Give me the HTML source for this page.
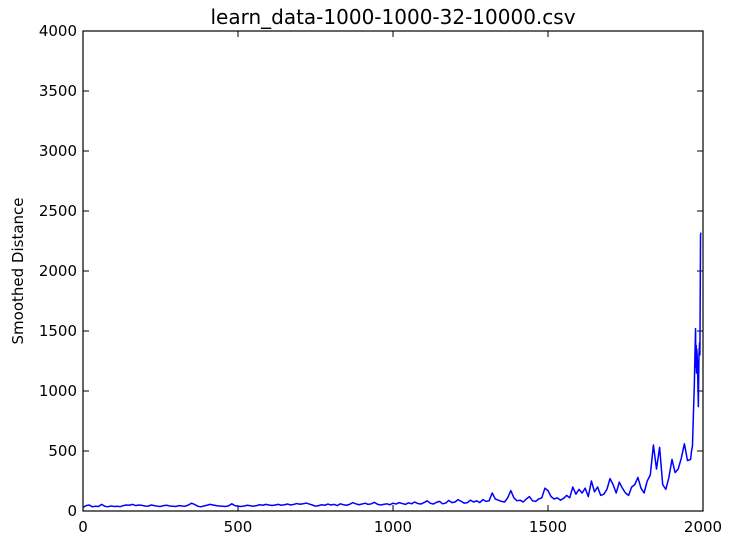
<!DOCTYPE html>
<html><head><meta charset="utf-8"><style>
body{margin:0;background:#fff;}
svg text{font-family:"DejaVu Sans","Liberation Sans",sans-serif;}
</style></head><body>
<svg id="chart" width="734" height="545">
<rect x="0" y="0" width="734" height="545" fill="#fff"/>
<text x="393" y="24" font-size="20" text-anchor="middle">learn_data-1000-1000-32-10000.csv</text>
<text transform="translate(23,271) rotate(-90)" font-size="15" text-anchor="middle">Smoothed Distance</text>
<g id="ticks"></g>
<polyline id="series" fill="none" stroke="#0000ff" stroke-width="1.5" stroke-linejoin="round"/>
<rect x="83" y="31" width="620" height="480" fill="none" stroke="#000" stroke-width="1.2"/>
</svg>
<script>
const xTicks=[0,500,1000,1500,2000];
const yTicks=[0,500,1000,1500,2000,2500,3000,3500,4000];
const stepSize=10;
const distance=[
30,45,50,35,40,38,55,40,35,42,
38,40,36,45,50,48,55,45,50,47,
42,40,50,45,40,38,45,48,42,40,
38,45,42,40,50,65,55,40,35,42,
48,55,50,45,42,40,38,44,60,45,
40,38,42,48,44,40,45,52,48,55,
50,46,50,55,48,52,58,50,55,62,
56,60,66,58,50,40,45,52,48,58,
50,55,45,60,52,48,55,70,60,52,
58,65,55,60,72,56,50,55,60,52,
65,58,70,62,55,68,60,75,62,58,
70,85,65,58,72,80,60,66,88,70,
75,95,80,65,70,90,75,85,70,95,
80,85,150,100,90,80,75,110,170,110,
85,90,75,100,120,85,80,100,110,190,
170,120,100,110,90,105,130,110,200,140,
180,150,190,120,250,160,200,130,140,180,
270,220,150,240,190,150,130,200,220,280,
190,150,250,300,550,350,530,220,180,280,
430,320,350,440,560,420,430];
const tailSteps=[1963,1966,1969,1972,1974,1976,1977,1978,1979,1980,1982,1984,1985,1987,1989,1990,1992,1993];
const tailDistance=[500,540,800,1050,1300,1520,1200,1380,1150,1350,1250,1000,870,1300,1400,1300,2300,2320];
const X=v=>83+v*620/2000, Y=v=>511-v*480/4000;
const tg=document.getElementById('ticks');
const NS='http://www.w3.org/2000/svg';
function mk(t,a){const e=document.createElementNS(NS,t);for(const k in a)e.setAttribute(k,a[k]);tg.appendChild(e);return e;}
xTicks.forEach(v=>{
  const l1=mk('line',{x1:X(v),x2:X(v),y1:511,y2:505,stroke:'#000'});
  
  
  const l2=mk('line',{x1:X(v),x2:X(v),y1:31,y2:37,stroke:'#000'});
  
  
  const t=mk('text',{x:X(v),y:532,'font-size':15,'text-anchor':'middle'});t.textContent=v;
  
  
});
yTicks.forEach(v=>{
  const l1=mk('line',{x1:83,x2:89,y1:Y(v),y2:Y(v),stroke:'#000'});
  
  
  const l2=mk('line',{x1:697,x2:703,y1:Y(v),y2:Y(v),stroke:'#000'});
  
  
  const t=mk('text',{x:77,y:Y(v)+5,'font-size':15,'text-anchor':'end'});t.textContent=v;
  
  
});
const pts=distance.map((d,i)=>X(i*stepSize)+','+Y(d)).concat(tailSteps.map((s,i)=>X(s)+','+Y(tailDistance[i])));
document.getElementById('series').setAttribute('points',pts.join(' '));
</script>
</body></html>
